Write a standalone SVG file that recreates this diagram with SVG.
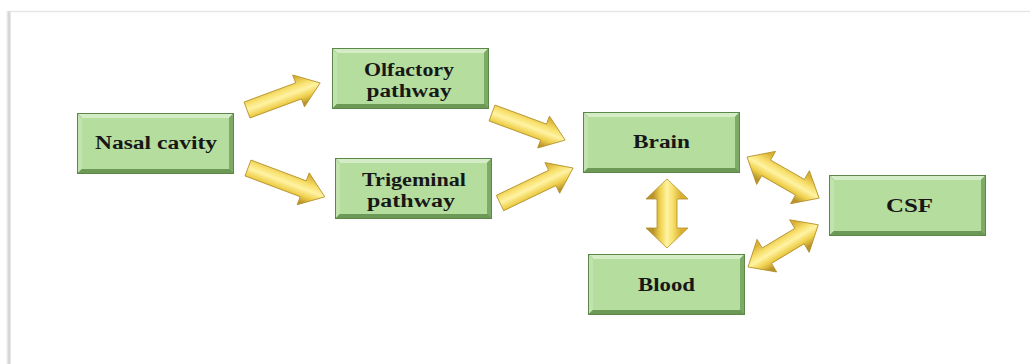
<svg xmlns="http://www.w3.org/2000/svg" width="1030" height="364" viewBox="0 0 1030 364">
  <defs>
    <style>
      .lbl { font-family: "Liberation Serif", "Times New Roman", serif; font-weight: bold; font-size: 18px; fill: #171717; text-anchor: middle; }
      .arrow { fill: url(#gold); stroke: #b38f26; stroke-width: 0.8; stroke-linejoin: miter; }
    </style>
    <linearGradient id="gold" gradientUnits="userSpaceOnUse" x1="0" y1="-14" x2="0" y2="14">
      <stop offset="0" stop-color="#d9b132"/>
      <stop offset="0.3" stop-color="#f8e16e"/>
      <stop offset="0.5" stop-color="#fff3a4"/>
      <stop offset="0.75" stop-color="#efd04c"/>
      <stop offset="1" stop-color="#b8922a"/>
    </linearGradient>
    <linearGradient id="shadowL" x1="0" y1="0" x2="1" y2="0">
      <stop offset="0" stop-color="#ffffff"/>
      <stop offset="0.6" stop-color="#cfcfcf"/>
      <stop offset="1" stop-color="#eeeeee"/>
    </linearGradient>
    <g id="box">
      <rect x="0" y="0" width="157" height="61" fill="#5b8848"/>
      <polygon points="1,1 156,1 152,5 5,5" fill="#d5edc6"/>
      <polygon points="1,1 5,5 5,56 1,60" fill="#c3e3ae"/>
      <polygon points="156,1 156,60 152,56 152,5" fill="#7dab66"/>
      <polygon points="1,60 156,60 152,56 5,56" fill="#6c9a56"/>
      <rect x="5" y="5" width="147" height="51" fill="#b5dd9e"/>
    </g>
  </defs>

  <rect x="0" y="0" width="1030" height="364" fill="#ffffff"/>
  <g id="frame">
    <rect x="6" y="11" width="5" height="353" fill="url(#shadowL)"/>
    <line x1="9" y1="11.5" x2="1030" y2="11.5" stroke="#e6e6e6" stroke-width="1.5"/>
  </g>

  <g id="connectors">
    <path class="arrow" transform="translate(247,110) rotate(-20.3)" d="M0,-8.5 H55 V-17 L78,0 L55,17 V8.5 H0 Z"/>
    <path class="arrow" transform="translate(248,168) rotate(20.6)" d="M0,-8.5 H59 V-17 L82,0 L59,17 V8.5 H0 Z"/>
    <path class="arrow" transform="translate(492,113) rotate(20.3)" d="M0,-8.5 H55 V-17 L78,0 L55,17 V8.5 H0 Z"/>
    <path class="arrow" transform="translate(500,203) rotate(-25.6)" d="M0,-8.5 H58 V-17 L81,0 L58,17 V8.5 H0 Z"/>
    <path class="arrow" transform="translate(667,179) rotate(90)" d="M0,0 L20,-21 V-10 H49 V-21 L69,0 L49,21 V10 H20 V21 Z"/>
    <path class="arrow" transform="translate(747,157) rotate(29.7)" d="M0,0 L22,-19 V-9 H61 V-19 L83,0 L61,19 V9 H22 V19 Z"/>
    <path class="arrow" transform="translate(748,267) rotate(-31)" d="M0,0 L22,-19 V-9 H60 V-19 L82,0 L60,19 V9 H22 V19 Z"/>
  </g>

  <g id="nasal">
    <use href="#box" x="77" y="113"/>
    <text class="lbl" x="156" y="149" textLength="122" lengthAdjust="spacingAndGlyphs">Nasal cavity</text>
  </g>
  <g id="olfactory">
    <use href="#box" x="332" y="48"/>
    <text class="lbl" x="409" y="76" textLength="90" lengthAdjust="spacingAndGlyphs">Olfactory</text>
    <text class="lbl" x="409" y="97" textLength="85" lengthAdjust="spacingAndGlyphs">pathway</text>
  </g>
  <g id="trigeminal">
    <use href="#box" x="335" y="158"/>
    <text class="lbl" x="414" y="186" textLength="104" lengthAdjust="spacingAndGlyphs">Trigeminal</text>
    <text class="lbl" x="411" y="207" textLength="88" lengthAdjust="spacingAndGlyphs">pathway</text>
  </g>
  <g id="brain">
    <use href="#box" x="583" y="112"/>
    <text class="lbl" x="661.5" y="148" textLength="57" lengthAdjust="spacingAndGlyphs">Brain</text>
  </g>
  <g id="csf">
    <use href="#box" x="829" y="175"/>
    <text class="lbl" x="909.5" y="211.5" textLength="47" lengthAdjust="spacingAndGlyphs">CSF</text>
  </g>
  <g id="blood">
    <use href="#box" x="588" y="254"/>
    <text class="lbl" x="666.5" y="290.5" textLength="57" lengthAdjust="spacingAndGlyphs">Blood</text>
  </g>
</svg>
